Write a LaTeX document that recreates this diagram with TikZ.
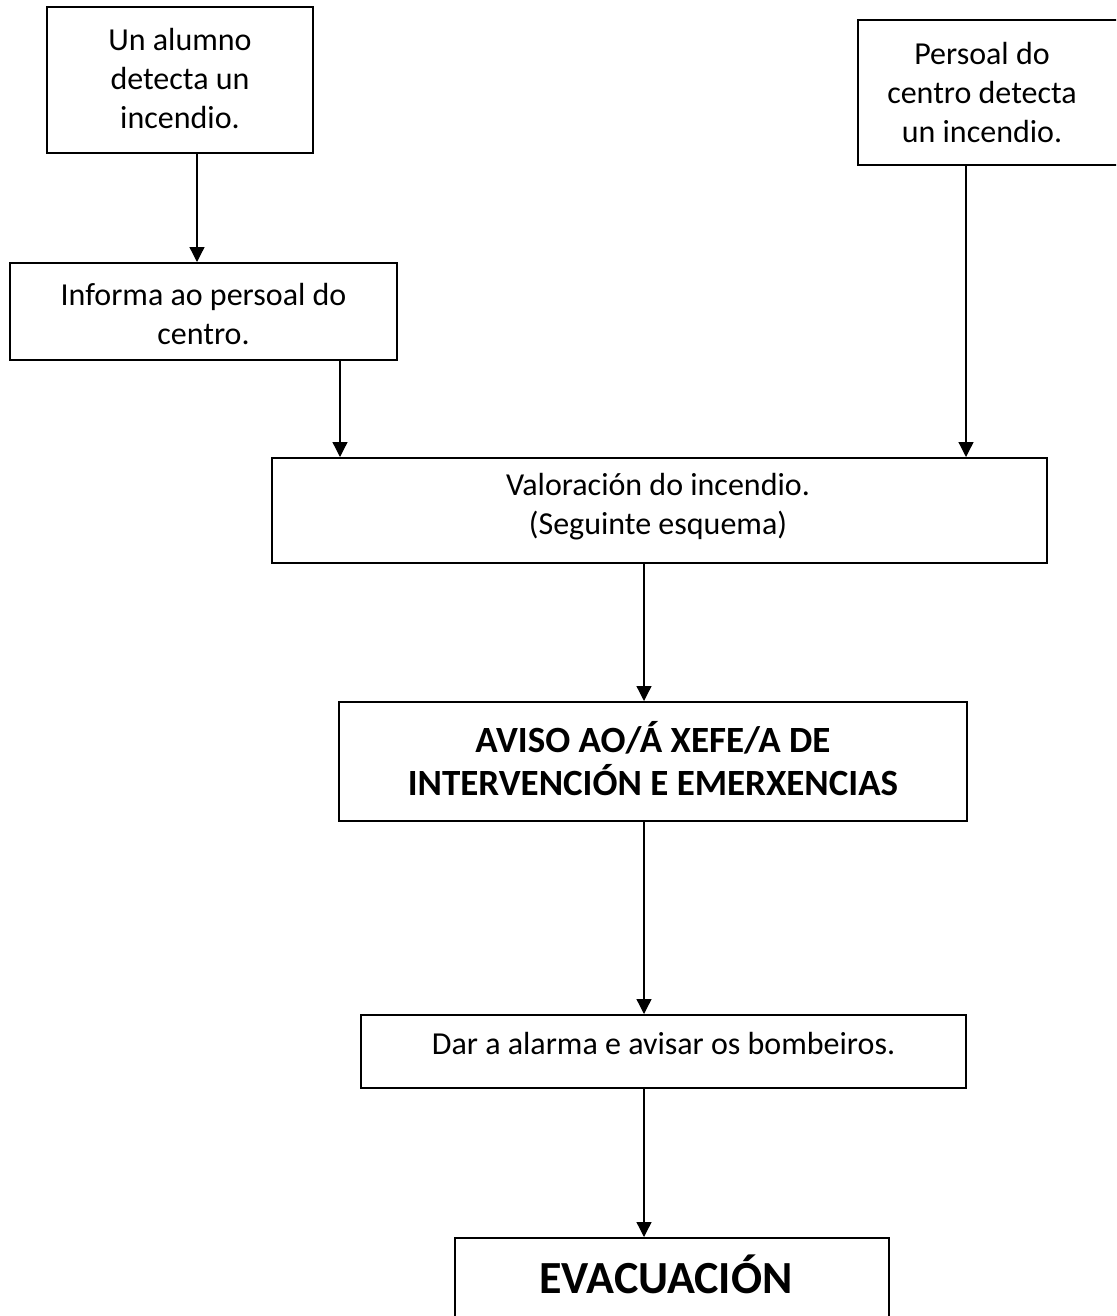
\documentclass[tikz,border=0pt]{standalone}
\usepackage{fontspec}
\setmainfont{Carlito}
\usetikzlibrary{arrows.meta}
\begin{document}
\begin{tikzpicture}[x=1pt,y=-1pt,
  boxstyle/.style={draw=black,line width=2pt,inner sep=0pt},
  txt/.style={font=\fontsize{32}{39}\selectfont,align=center,inner sep=0pt},
  boldtxt/.style={font=\fontsize{37}{43}\selectfont\bfseries,align=center,inner sep=0pt},
  bigtxt/.style={font=\fontsize{46}{56}\selectfont\bfseries,align=center,inner sep=0pt},
  arr/.style={line width=1.3pt,-{Triangle[length=15pt,width=15pt]}}]
\useasboundingbox (0,0) rectangle (1116,1316);
\clip (0,0) rectangle (1116,1316);
\fill[white] (0,0) rectangle (1116,1316);
% boxes
\node[boxstyle,minimum width=266pt,minimum height=146pt] (b1) at (180,80) {};
\node[boxstyle,minimum width=387pt,minimum height=97pt] (b2) at (203.5,311.5) {};
\node[boxstyle,minimum width=267pt,minimum height=145pt] (b3) at (991.5,92.5) {};
\node[boxstyle,minimum width=775pt,minimum height=105pt] (b4) at (659.5,510.5) {};
\node[boxstyle,minimum width=628pt,minimum height=119pt] (b5) at (653,761.5) {};
\node[boxstyle,minimum width=605pt,minimum height=73pt] (b6) at (663.5,1051.5) {};
\node[boxstyle,minimum width=434pt,minimum height=160pt] (b7) at (672,1318) {};
% texts
\node[txt] (t1) at (180,79) {Un alumno\\detecta un\\incendio.};
\node[txt] (t2) at (203.5,314) {Informa ao persoal do\\centro.};
\node[txt] (t3) at (982,93) {Persoal do\\centro detecta\\un incendio.};
\node[txt] (t4) at (658,507) {Valoración do incendio.\\(Seguinte esquema)};
\node[boldtxt] (t5) at (653,759) {AVISO AO/Á XEFE/A DE\\INTERVENCIÓN E EMERXENCIAS};
\node[txt,anchor=base] (t6) at (663.5,1054) {Dar a alarma e avisar os bombeiros.};
\node[bigtxt,anchor=base] (t7) at (666,1293) {EVACUACIÓN};
% arrows
\draw[arr] (b1.south -| 197,0) -- (b2.north -| 197,0);
\draw[arr] (b2.south -| 340,0) -- (b4.north -| 340,0);
\draw[arr] (b3.south -| 966,0) -- (b4.north -| 966,0);
\draw[arr] (b4.south -| 644,0) -- (b5.north -| 644,0);
\draw[arr] (b5.south -| 644,0) -- (b6.north -| 644,0);
\draw[arr] (b6.south -| 644,0) -- (b7.north -| 644,0);
\end{tikzpicture}
\end{document}
